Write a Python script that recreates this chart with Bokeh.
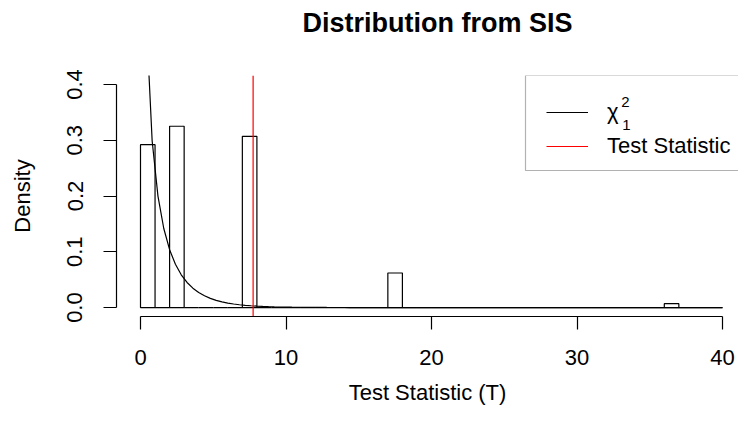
import numpy as np
from bokeh.plotting import figure
from bokeh.models import (Range1d, FixedTicker, NumeralTickFormatter, Legend,
                          LegendItem, Label, BoxAnnotation, Title)
from bokeh.embed import file_html
from bokeh.resources import INLINE

# ---- data ----
bin_left = list(range(0, 40))
bin_width = 1
hist_density = [0.292, 0.0, 0.325, 0.0, 0.0, 0.0, 0.0, 0.307,
                0.0, 0.0, 0.0, 0.0, 0.0, 0.0, 0.0, 0.0, 0.0,
                0.062,
                0.0, 0.0, 0.0, 0.0, 0.0, 0.0, 0.0, 0.0, 0.0,
                0.0, 0.0, 0.0, 0.0, 0.0, 0.0, 0.0, 0.0, 0.0,
                0.007,
                0.0, 0.0, 0.0]
test_stat = 7.74
chi_df = 1
x_ticks = [0, 10, 20, 30, 40]
y_ticks = [0.0, 0.1, 0.2, 0.3, 0.4]

# theoretical chi-square(1) density, as drawn by curve(dchisq(x, 1), 0, 40)
curve_x = np.linspace(0, 40, 101)[1:]
curve_y = curve_x ** (chi_df / 2 - 1) * np.exp(-curve_x / 2) / (2 ** (chi_df / 2) * np.sqrt(np.pi))

FONT = "Liberation Sans"
W, H = 738, 411
FL, FT, FB = 116, 75, 316
PX_PER_UNIT = 14.55
x_lo = -(140 - FL) / PX_PER_UNIT
x_hi = x_lo + (W - FL) / PX_PER_UNIT
y_lo, y_hi = -0.016, 0.416

p = figure(width=W, height=H, output_backend="svg", toolbar_location=None,
           title=None,
           x_range=Range1d(x_lo, x_hi), y_range=Range1d(y_lo, y_hi),
           min_border_left=FL, min_border_right=0, min_border_top=FT,
           min_border_bottom=H - FB)
p.outline_line_color = None
p.grid.visible = False
p.background_fill_color = "white"
p.border_fill_color = "white"

# spacer (closest to the frame), then the real title above it
p.add_layout(Title(text=" ", text_font=FONT, text_font_size="10px",
                   standoff=23), "above")
p.add_layout(Title(text="Distribution from SIS", text_font=FONT,
                   text_font_size="27px", text_font_style="bold",
                   text_color="black", align="left", offset=186,
                   vertical_align="top", standoff=0), "above")

lefts = np.array(bin_left, dtype=float)
p.quad(left=lefts, right=lefts + bin_width, bottom=0, top=hist_density,
       fill_color=None, line_color="black", line_width=1.2)

chi_r = p.line(curve_x, curve_y, line_color="black", line_width=1.2)
red_r = p.line([test_stat, test_stat], [y_lo, y_hi], line_color="red", line_width=1.2)

for ax in (p.xaxis[0], p.yaxis[0]):
    ax.axis_line_color = "black"
    ax.axis_line_width = 1.2
    ax.major_tick_line_color = "black"
    ax.major_tick_line_width = 1.2
    ax.major_tick_out = 13
    ax.major_tick_in = 0
    ax.minor_tick_out = 0
    ax.minor_tick_in = 0
    ax.major_label_text_font = FONT
    ax.major_label_text_font_size = "22px"
    ax.major_label_text_color = "black"
    ax.axis_label_text_font = FONT
    ax.axis_label_text_font_size = "22px"
    ax.axis_label_text_font_style = "normal"
    ax.axis_label_text_color = "black"

p.xaxis.bounds = (0, 40)
p.xaxis.ticker = FixedTicker(ticks=x_ticks)
p.xaxis.axis_label = "Test Statistic (T)"
p.xaxis.major_label_standoff = 20
p.xaxis.axis_label_standoff = 12

p.yaxis.bounds = (0, 0.4)
p.yaxis.ticker = FixedTicker(ticks=y_ticks)
p.yaxis.formatter = NumeralTickFormatter(format="0.0")
p.yaxis.major_label_orientation = "vertical"
p.yaxis.axis_label = "Density"
p.yaxis.major_label_standoff = 21
p.yaxis.axis_label_standoff = 30

LEG_SHIFT = 14
legend = Legend(items=[LegendItem(label="χ", renderers=[chi_r]),
                       LegendItem(label="Test Statistic", renderers=[red_r])],
                location=(444 - LEG_SHIFT, 153), padding=0, spacing=0, margin=0,
                glyph_width=42, glyph_height=34, label_height=34,
                label_standoff=19, label_text_font=FONT,
                label_text_font_size="22px", label_text_color="black",
                border_line_color=None, background_fill_alpha=0)
p.add_layout(legend)

p.add_layout(BoxAnnotation(left=423 - LEG_SHIFT, right=660, top=241, bottom=146,
                           left_units="screen", right_units="screen",
                           top_units="screen", bottom_units="screen",
                           fill_alpha=0, line_color="black", line_width=1.2))

p.add_layout(Label(x=523 - LEG_SHIFT, y=215, x_units="screen", y_units="screen", text="2",
                   text_font=FONT, text_font_size="15px", text_align="center",
                   text_baseline="middle", text_color="black"))
p.add_layout(Label(x=524 - LEG_SHIFT, y=192, x_units="screen", y_units="screen", text="1",
                   text_font=FONT, text_font_size="15px", text_align="center",
                   text_baseline="middle", text_color="black"))

open("out.html", "w").write(file_html(p, INLINE))
